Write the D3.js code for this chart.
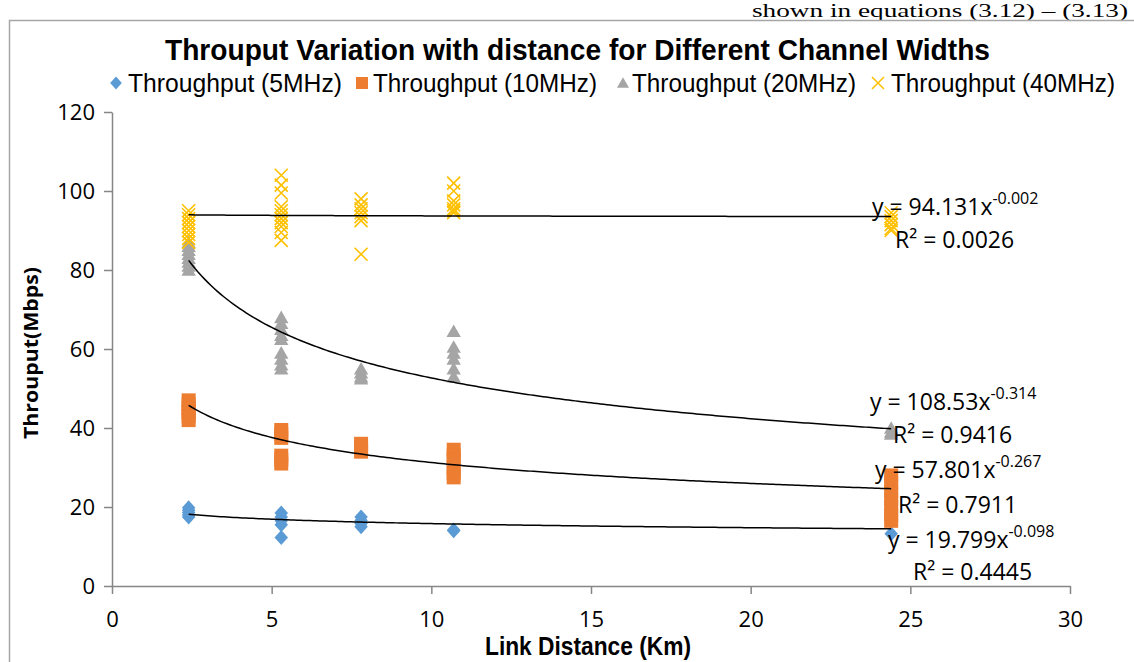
<!DOCTYPE html>
<html>
<head>
<meta charset="utf-8">
<script src="https://cdn.jsdelivr.net/npm/d3@7"></script>
<style>
  html, body { margin: 0; padding: 0; background: #fff; }
  svg { display: block; }
</style>
</head>
<body>
<svg id="chart" width="1134" height="662"></svg>
<script>
// ---------------- DATA ----------------
const distances = [2.4, 5.3, 7.8, 10.7, 24.4];
const seriesNames = ["Throughput (5MHz)", "Throughput (10MHz)", "Throughput (20MHz)", "Throughput (40MHz)"];
const seriesColors = ["#5B9BD5", "#ED7D31", "#A5A5A5", "#FFC000"];

// values for each distance group (same order as distances)
const thr5MHz = [
  [19.8, 19.2, 18.6, 18.0, 17.5],
  [18.5, 17.5, 16.5, 15.5, 12.3],
  [17.5, 16.6, 15.8, 15.0],
  [14.0, 14.2],
  [13.2]
];
const thr10MHz = [
  [47, 46, 45, 44, 43, 42],
  [39.5, 38.5, 37.5, 33, 32, 31],
  [36, 35, 34],
  [34.5, 33, 32, 30, 28.5, 27.5],
  [28, 26, 24, 22, 20, 18, 16.5]
];
const thr20MHz = [
  [87, 86, 85, 84, 83, 82, 81, 80],
  [68, 66.5, 65, 63.5, 62.5, 59, 57.5, 56, 55],
  [55, 54, 53, 52.5],
  [64.5, 60.5, 59, 57.5, 55, 53],
  [40, 39, 38.5]
];
const thr40MHz = [
  [95, 94, 93, 92, 91, 90, 89, 88, 87],
  [104, 101.5, 99.5, 96, 95, 94, 93, 92, 91, 89.5, 87.5],
  [98, 96.5, 95.5, 94.5, 93.5, 92.5, 84],
  [102, 100, 97.5, 96.5, 95.5, 95, 94.5],
  [94.5, 93.5, 92.5, 91.5, 90.5, 90]
];

// power trendlines y = a * x^b
const fitA = [19.799, 57.801, 108.53, 94.131];
const fitB = [-0.098, -0.267, -0.314, -0.002];
const fitALabel = ["19.799", "57.801", "108.53", "94.131"];
const fitBLabel = ["-0.098", "-0.267", "-0.314", "-0.002"];
const fitR2 = ["0.4445", "0.7911", "0.9416", "0.0026"];

const xTicks = [0, 5, 10, 15, 20, 25, 30];
const yTicks = [0, 20, 40, 60, 80, 100, 120];

const titleText = "Throuput Variation with distance for Different Channel Widths";
const xTitle = "Link Distance (Km)";
const yTitle = "Throuput(Mbps)";

// ---------------- DRAW ----------------
const svg = d3.select("#chart");
const x = d3.scaleLinear().domain([0, 30]).range([112, 1070]);
const y = d3.scaleLinear().domain([0, 120]).range([586, 112]);

// document text just above the chart
svg.append("text")
  .attr("x", 752).attr("y", 17)
  .attr("font-family", "Liberation Serif, serif")
  .attr("font-size", 19)
  .attr("textLength", 376).attr("lengthAdjust", "spacingAndGlyphs")
  .attr("fill", "#000")
  .text("shown in equations (3.12) \u2013 (3.13)");
// chart border
svg.append("path")
  .attr("d", "M9.5,662 V20.5 H1134")
  .attr("fill", "none").attr("stroke", "#a6a6a6").attr("stroke-width", 1.5);

// title
svg.append("text")
  .attr("x", 165).attr("y", 60)
  .attr("font-family", "Liberation Sans Narrow, Arial Narrow, Liberation Sans, sans-serif")
  .attr("font-weight", "bold").attr("font-size", 29)
  .attr("textLength", 825).attr("lengthAdjust", "spacingAndGlyphs")
  .text(titleText);

// symbols
function symbolPath(i, s) {
  if (i === 0) return `M0,${-s}L${s*0.9},0L0,${s}L${-s*0.9},0Z`;
  if (i === 1) return `M${-s},${-s}H${s}V${s}H${-s}Z`;
  if (i === 2) return `M0,${-s*0.95}L${s},${s*0.8}L${-s},${s*0.8}Z`;
  return `M${-s},${-s}L${s},${s}M${s},${-s}L${-s},${s}`;
}

// legend
const legendMarkX = [116, 362, 623, 878];
const legendTextX = [128, 373, 632, 891];
const legendTextW = [214, 224, 224, 224];
seriesNames.forEach((n, i) => {
  const g = svg.append("g").attr("transform", `translate(${legendMarkX[i]},83)`);
  g.append("path").attr("d", symbolPath(i, i === 0 ? 6.5 : 6))
    .attr("fill", i === 3 ? "none" : seriesColors[i])
    .attr("stroke", i === 3 ? seriesColors[i] : "none").attr("stroke-width", 1.5);
  svg.append("text")
    .attr("x", legendTextX[i]).attr("y", 92)
    .attr("font-family", "Liberation Sans Narrow, Arial Narrow, Liberation Sans, sans-serif")
    .attr("font-size", 26)
    .attr("textLength", legendTextW[i]).attr("lengthAdjust", "spacingAndGlyphs")
    .attr("fill", "#000")
    .text(n);
});

// axes
const axisColor = "#868686";
const yAxis = svg.append("g").attr("transform", "translate(112,0)")
  .call(d3.axisLeft(y).tickValues(yTicks).tickSize(8).tickPadding(9).tickSizeOuter(0));
const xAxis = svg.append("g").attr("transform", "translate(0,586)")
  .call(d3.axisBottom(x).tickValues(xTicks).tickSize(8).tickPadding(17).tickSizeOuter(0));
[yAxis, xAxis].forEach(a => {
  a.select(".domain").attr("stroke", axisColor).attr("stroke-width", 1.5);
  a.selectAll(".tick line").attr("stroke", axisColor).attr("stroke-width", 1.5);
  a.selectAll(".tick text")
    .attr("font-family", "Open Sans, Noto Sans, sans-serif")
    .attr("font-size", 22).attr("fill", "#000");
});
yAxis.selectAll(".tick text").attr("dy", "0.35em");

// axis titles
svg.append("text")
  .attr("transform", "translate(38,353) rotate(-90)")
  .attr("text-anchor", "middle")
  .attr("font-family", "Open Sans, Noto Sans, sans-serif")
  .attr("font-weight", "bold").attr("font-size", 19)
  .attr("textLength", 172).attr("lengthAdjust", "spacingAndGlyphs")
  .text(yTitle);
svg.append("text")
  .attr("x", 588).attr("y", 655)
  .attr("text-anchor", "middle")
  .attr("font-family", "Liberation Sans Narrow, Arial Narrow, Liberation Sans, sans-serif")
  .attr("font-weight", "bold").attr("font-size", 25)
  .attr("textLength", 206).attr("lengthAdjust", "spacingAndGlyphs")
  .text(xTitle);

// markers
const allSeries = [thr5MHz, thr10MHz, thr20MHz, thr40MHz];
const markerSize = [7.5, 7, 7.2, 6.5];
allSeries.forEach((ser, si) => {
  const pts = [];
  ser.forEach((vals, gi) => vals.forEach(v => pts.push([distances[gi], v])));
  svg.append("g").selectAll("path").data(pts).join("path")
    .attr("transform", d => `translate(${x(d[0])},${y(d[1])})`)
    .attr("d", symbolPath(si, markerSize[si]))
    .attr("fill", si === 3 ? "none" : seriesColors[si])
    .attr("stroke", si === 3 ? seriesColors[si] : "none")
    .attr("stroke-width", 1.6);
});

// trendlines
const xs = d3.range(0, 221).map(i => 2.4 + i * 0.1);
const line = d3.line().x(d => x(d[0])).y(d => y(d[1])).curve(d3.curveLinear);
fitA.forEach((a, i) => {
  svg.append("path")
    .attr("d", line(xs.map(t => [t, a * Math.pow(t, fitB[i])])))
    .attr("fill", "none").attr("stroke", "#000").attr("stroke-width", 1.5);
});

// trendline labels
const eqPos = [[888, 548], [875, 478], [870, 410], [872, 215]];
const r2Pos = [[913, 580], [898, 513], [893, 443], [895, 248]];
fitA.forEach((a, i) => {
  const t = svg.append("text")
    .attr("x", eqPos[i][0]).attr("y", eqPos[i][1])
    .attr("font-family", "Open Sans, Noto Sans, sans-serif")
    .attr("font-size", 23).attr("fill", "#000");
  t.append("tspan").text(`y = ${fitALabel[i]}x`);
  t.append("tspan").attr("font-size", 16).attr("dy", -11).text(fitBLabel[i]);
  svg.append("text")
    .attr("x", r2Pos[i][0]).attr("y", r2Pos[i][1])
    .attr("font-family", "Open Sans, Noto Sans, sans-serif")
    .attr("font-size", 23).attr("fill", "#000")
    .text(`R\u00B2 = ${fitR2[i]}`);
});
</script>
</body>
</html>
